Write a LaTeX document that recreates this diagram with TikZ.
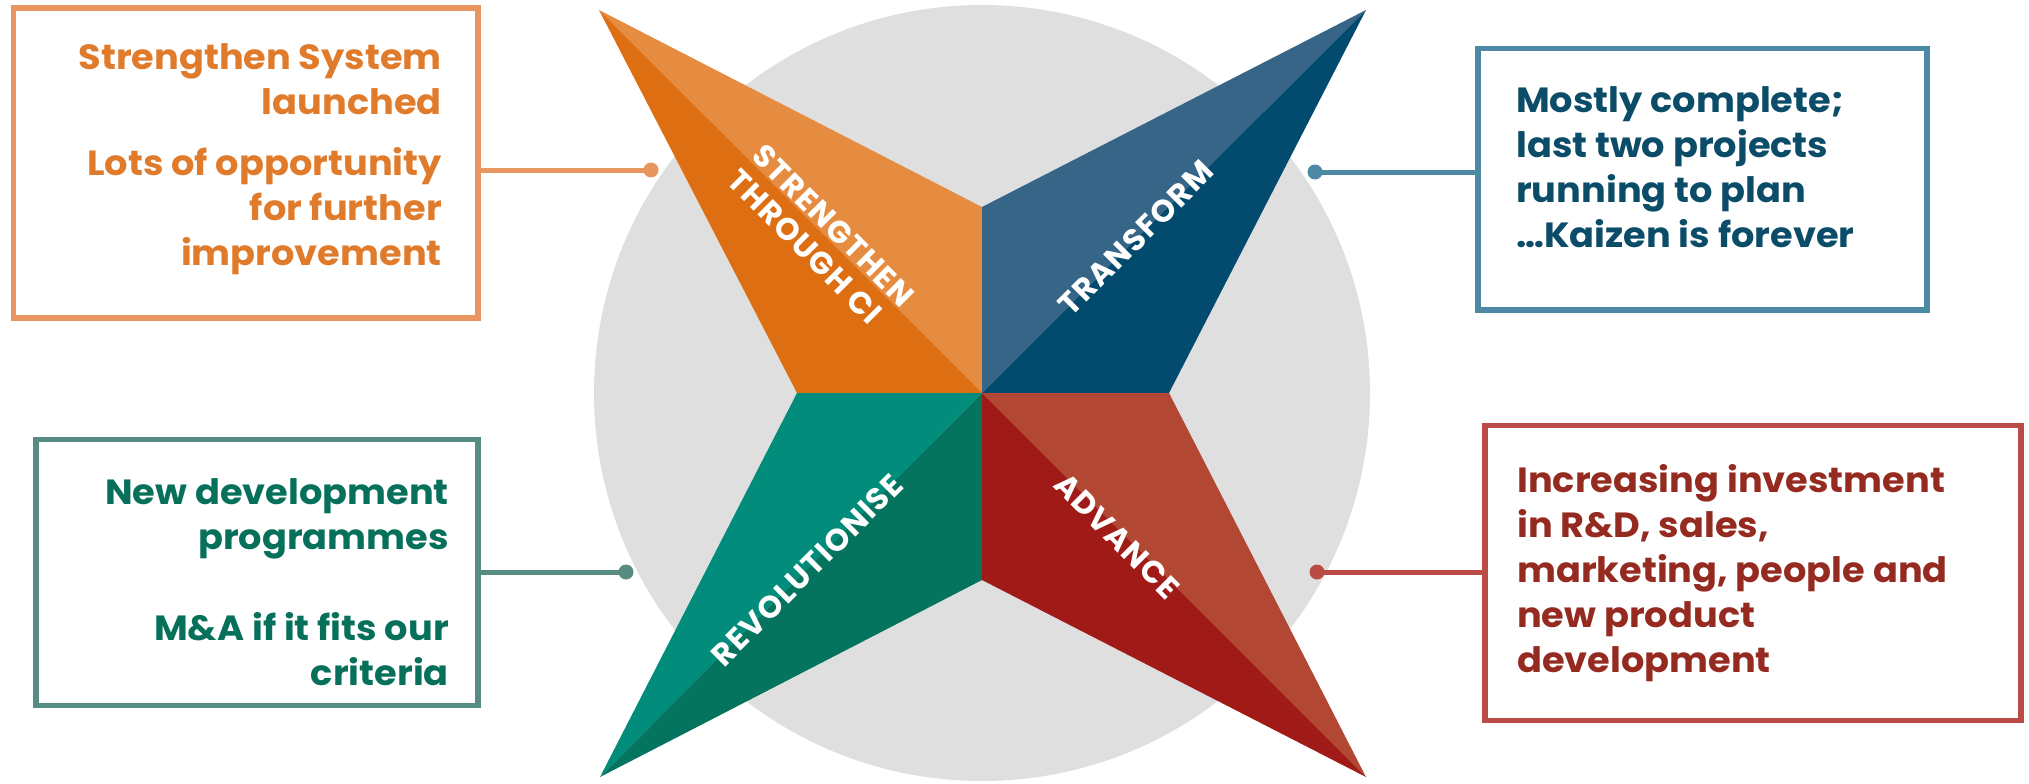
\documentclass[tikz,border=0pt]{standalone}
\usepackage{fontspec}
\setmainfont{Poppins}[FakeStretch=1.05]
\newfontfamily\labfont[LetterSpace=4]{Poppins}
\definecolor{circlegray}{HTML}{E0DFE0}
\definecolor{orLight}{HTML}{E68C41}
\definecolor{orDark}{HTML}{DD6F12}
\definecolor{blLight}{HTML}{366587}
\definecolor{blDark}{HTML}{034B6E}
\definecolor{grLight}{HTML}{018C7B}
\definecolor{grDark}{HTML}{05745F}
\definecolor{rdLight}{HTML}{B24734}
\definecolor{rdDark}{HTML}{A01B17}
\definecolor{orBox}{HTML}{E8965D}
\definecolor{blBox}{HTML}{4D89A5}
\definecolor{grBox}{HTML}{568C82}
\definecolor{rdBox}{HTML}{BA4B46}
\definecolor{orText}{HTML}{E07B2C}
\definecolor{blText}{HTML}{0B4C68}
\definecolor{grText}{HTML}{06705A}
\definecolor{rdText}{HTML}{952B20}
\begin{document}
\begin{tikzpicture}[x=1pt,y=-1pt,
  infobox/.style={draw,line width=5.5pt,inner sep=0pt},
  conn/.style={line width=5pt},
  enddot/.style={circle,inner sep=0pt,minimum size=15pt},
  boxtext/.style={font=\fontsize{35}{45}\selectfont\bfseries,inner sep=0pt},
  armlabel/.style={text=white,font=\labfont\fontsize{31}{35}\selectfont\bfseries,inner sep=0pt}]
\useasboundingbox (0,0) rectangle (2029,784);
\fill[circlegray] (982,393) circle (388pt);
% star
\coordinate (C) at (982,393);
\coordinate (tOr) at (599,10);
\coordinate (tBl) at (1366,10);
\coordinate (tGr) at (600,777);
\coordinate (tRd) at (1366,777);
\coordinate (nTop) at (982,207);
\coordinate (nBot) at (982,580);
\coordinate (cL) at (797,393);
\coordinate (cR) at (1169,393);
\fill[orLight] (tOr) -- (nTop) -- (C) -- cycle;
\fill[orDark] (tOr) -- (C) -- (cL) -- cycle;
\fill[blLight] (tBl) -- (nTop) -- (C) -- cycle;
\fill[blDark] (tBl) -- (C) -- (cR) -- cycle;
\fill[grLight] (tGr) -- (cL) -- (C) -- cycle;
\fill[grDark] (tGr) -- (C) -- (nBot) -- cycle;
\fill[rdLight] (tRd) -- (cR) -- (C) -- cycle;
\fill[rdDark] (tRd) -- (C) -- (nBot) -- cycle;
% arm labels
\node[armlabel,align=left,rotate=-45] (lS) at (821,238) {STRENGTHEN\\THROUGH CI};
\node[armlabel,rotate=45] (lT) at (1136,238) {TRANSFORM};
\node[armlabel,rotate=45] (lR) at (807,570) {REVOLUTIONISE};
\node[armlabel,rotate=-45] (lA) at (1117,536) {ADVANCE};
% boxes
\node[infobox,draw=orBox,minimum width=464.5pt,minimum height=310pt] (bOr) at (245.8,163) {};
\node[infobox,draw=blBox,minimum width=449pt,minimum height=261.5pt] (bBl) at (1702.5,179.4) {};
\node[infobox,draw=grBox,minimum width=442pt,minimum height=265.6pt] (bGr) at (257,572.5) {};
\node[infobox,draw=rdBox,minimum width=536pt,minimum height=294.6pt] (bRd) at (1753,573) {};
% box texts
\node[boxtext,text=orText,align=right,anchor=base east] (xOr) at (442,265)
  {Strengthen System\\ launched\\[16pt] Lots of opportunity\\ for further\\ improvement};
\node[boxtext,text=blText,align=left,anchor=base west] (xBl) at (1516,247)
  {Mostly complete;\\ last two projects\\ running to plan\\ …Kaizen is forever};
\node[boxtext,text=grText,align=right,anchor=base east] (xGr) at (449,685)
  {New development\\ programmes\\[46pt] M\&A if it fits our\\ criteria};
\node[boxtext,text=rdText,align=left,anchor=base west] (xRd) at (1517,672)
  {Increasing investment\\ in R\&D, sales,\\ marketing, people and\\ new product\\ development};
% connectors
\node[enddot,fill=orBox] (dOr) at (651,170) {};
\node[enddot,fill=blBox] (dBl) at (1315,172) {};
\node[enddot,fill=grBox] (dGr) at (626,572) {};
\node[enddot,fill=rdBox] (dRd) at (1317,572) {};
\draw[conn,orBox] (dOr.center) -- (dOr.center -| bOr.east);
\draw[conn,blBox] (dBl.center) -- (dBl.center -| bBl.west);
\draw[conn,grBox] (dGr.center) -- (dGr.center -| bGr.east);
\draw[conn,rdBox] (dRd.center) -- (dRd.center -| bRd.west);
\end{tikzpicture}
\end{document}
